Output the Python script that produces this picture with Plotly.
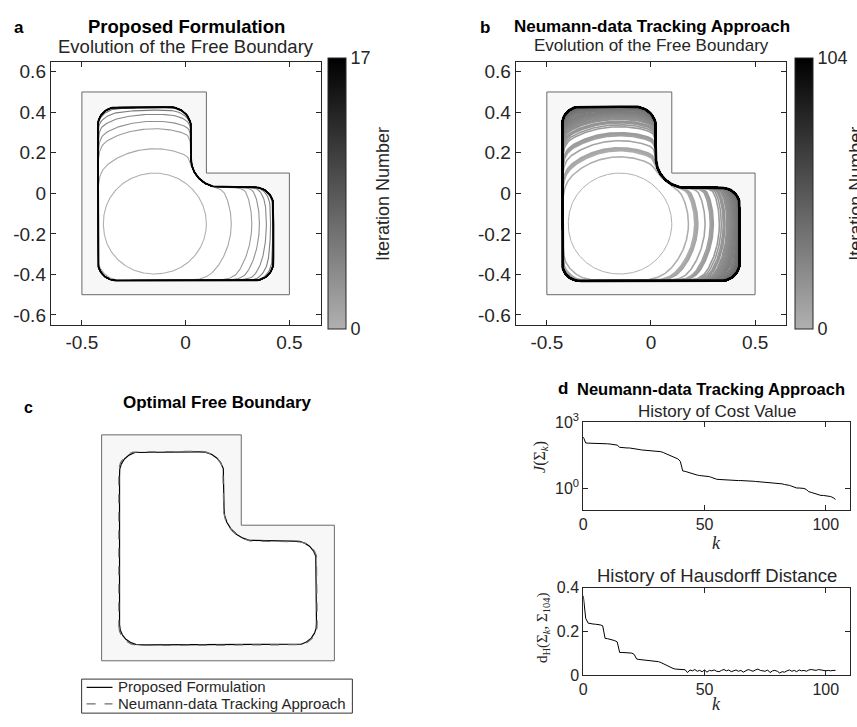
import numpy as np
import plotly.graph_objects as go

W, H = 857, 727
SANS = "Liberation Sans, Arial, Helvetica, sans-serif"
SERIF = "Liberation Serif, Times New Roman, serif"
INK = "#262626"


def fx(px):
    return px / W


def fy(py):
    return 1 - py / H


# ---- L-shaped container -------------------------------------------------
DOMAIN_X = [-0.5, 0.5, 0.5, 0.1, 0.1, -0.5, -0.5]
DOMAIN_Y = [-0.5, -0.5, 0.1, 0.1, 0.5, 0.5, -0.5]

# ---- optimal free boundaries: corner vertices (ccw) and fillet radii ----
PROPOSED_CORNERS_X = [-0.423, 0.423, 0.423, 0.026, 0.026, -0.423]
PROPOSED_CORNERS_Y = [-0.430, -0.430, 0.030, 0.030, 0.425, 0.425]
PROPOSED_FILLETS = [0.09, 0.09, 0.09, 0.14, 0.10, 0.09]

NEUMANN_CORNERS_X = [-0.426, 0.426, 0.426, 0.024, 0.024, -0.426]
NEUMANN_CORNERS_Y = [-0.432, -0.432, 0.027, 0.027, 0.427, 0.427]
NEUMANN_FILLETS = [0.085, 0.09, 0.085, 0.145, 0.10, 0.085]

# initial guess: disc centred here, iterates grow from it
INITIAL_CENTER = (-0.15, -0.15)

# effective growth radius of each iterate (iteration 0 .. last)
PROPOSED_RADII = [0.25, 0.37, 0.47, 0.51, 0.555, 0.60, 0.66, 0.75, 0.85,
                  1.0, 1.2, 1.5, 2.0, 2.5, 3.0, 3.0, 3.0, 3.0]
NEUMANN_RADII = [0.25, 0.33, 0.36, 0.365, 0.37, 0.37, 0.375, 0.41, 0.435,
                 0.44, 0.445, 0.445, 0.45, 0.48, 0.49, 0.50, 0.505, 0.51,
                 0.52, 0.525, 0.53, 0.535, 0.54, 0.545, 0.55, 0.555, 0.56,
                 0.565, 0.57, 0.575, 0.58, 0.59, 0.60, 0.61, 0.62, 0.63,
                 0.64, 0.65, 0.66, 0.68, 0.70, 0.72, 0.74, 0.76, 0.78,
                 0.80, 0.83, 0.86, 0.89, 0.92, 0.95, 1.0, 1.03, 1.06,
                 1.1, 1.13, 1.16, 1.2, 1.24, 1.28, 1.32, 1.36, 1.4,
                 1.44, 1.48, 1.52, 1.56, 1.6, 1.64, 1.68, 1.72, 1.76,
                 1.8, 1.84, 1.88, 1.92, 1.96, 2.0, 2.04, 2.08, 2.12,
                 2.16, 2.2, 2.24, 2.28, 2.32, 2.36, 2.4, 2.44, 2.48,
                 2.52, 2.56, 2.6, 2.64, 2.68, 2.72, 2.76, 2.8, 2.84,
                 2.88, 2.92, 2.96, 3.0, 3.0, 3.0]

PROPOSED_LAST = 17
NEUMANN_LAST = 104

# ---- Neumann-data tracking: cost history (log10 J) ----------------------
COST_LOG10 = [2.33, 2.06, 2.05, 2.05, 2.05, 2.04, 2.04, 2.04, 2.03, 2.03,
              2.02, 2.01, 2.00, 1.99, 1.96, 1.86, 1.84, 1.84, 1.83, 1.83,
              1.82, 1.79, 1.77, 1.76, 1.74, 1.73, 1.72, 1.71, 1.71, 1.70,
              1.69, 1.68, 1.66, 1.62, 1.57, 1.53, 1.49, 1.45, 1.40, 1.33,
              1.22, 0.78, 0.76, 0.72, 0.68, 0.65, 0.62, 0.59, 0.57, 0.56,
              0.55, 0.54, 0.52, 0.48, 0.43, 0.40, 0.39, 0.38, 0.37, 0.37,
              0.36, 0.36, 0.35, 0.35, 0.34, 0.34, 0.34, 0.33, 0.33, 0.32,
              0.31, 0.30, 0.29, 0.28, 0.28, 0.27, 0.27, 0.26, 0.26, 0.25,
              0.24, 0.22, 0.19, 0.16, 0.15, 0.12, 0.08, 0.03, 0.00, 0.00,
              -0.01, -0.02, -0.07, -0.17, -0.20, -0.24, -0.27, -0.32, -0.34,
              -0.34, -0.35, -0.36, -0.39, -0.44, -0.52]

# ---- Hausdorff distance to the final boundary ---------------------------
HAUSDORFF = [0.363, 0.260, 0.238, 0.235, 0.234, 0.233, 0.232, 0.230, 0.226,
             0.168, 0.167, 0.165, 0.163, 0.158, 0.152, 0.104, 0.104, 0.103,
             0.103, 0.102, 0.101, 0.095, 0.074, 0.072, 0.071, 0.068, 0.067,
             0.066, 0.066, 0.065, 0.064, 0.062, 0.058, 0.052, 0.046, 0.040,
             0.035, 0.031, 0.028, 0.027, 0.026, 0.026, 0.025, 0.012, 0.024,
             0.020, 0.026, 0.018, 0.022, 0.016, 0.024, 0.014, 0.022, 0.020,
             0.024, 0.018, 0.016, 0.022, 0.026, 0.020, 0.024, 0.016, 0.020,
             0.024, 0.018, 0.022, 0.014, 0.020, 0.026, 0.022, 0.018, 0.024,
             0.028, 0.022, 0.020, 0.018, 0.024, 0.012, 0.020, 0.022, 0.018,
             0.010, 0.016, 0.014, 0.020, 0.024, 0.018, 0.022, 0.016, 0.024,
             0.020, 0.022, 0.018, 0.024, 0.026, 0.024, 0.022, 0.026, 0.024,
             0.022, 0.020, 0.022, 0.020, 0.022, 0.022]


# ---- geometry helpers ---------------------------------------------------
def rounded_boundary(cx, cy, fillets, n=40, samples=2400):
    """Closed polygon with circular fillets, resampled evenly by arc length."""
    V = np.column_stack([cx, cy]).astype(float)
    w = np.sqrt(0.5)
    t = np.linspace(0, 1, n)[:, None]
    b0, b1, b2 = (1 - t) ** 2, 2 * w * (1 - t) * t, t ** 2
    pieces = []
    for i in range(len(V)):
        P, Q, R = V[i - 1], V[i], V[(i + 1) % len(V)]
        d1 = (Q - P) / np.linalg.norm(Q - P)
        d2 = (R - Q) / np.linalg.norm(R - Q)
        a, b = Q - d1 * fillets[i], Q + d2 * fillets[i]
        pieces.append((b0 * a + b1 * Q + b2 * b) / (b0 + b1 + b2))
    pts = np.vstack(pieces)
    pts = np.vstack([pts, pts[:1]])
    seg = np.hypot(*np.diff(pts, axis=0).T)
    s = np.concatenate([[0], np.cumsum(seg)])
    s_new = np.linspace(0, s[-1], samples)
    return np.column_stack([np.interp(s_new, s, pts[:, 0]),
                            np.interp(s_new, s, pts[:, 1])])


def polar_profile(pts, center):
    d = pts[:-1] - np.asarray(center)
    return np.arctan2(d[:, 1], d[:, 0]), np.hypot(d[:, 0], d[:, 1])


THETA = np.linspace(0, 2 * np.pi, 481)


def iterate_curve(profile, center, R, p=16):
    ang, rad = profile
    rL = np.interp(THETA, ang, rad, period=2 * np.pi)
    r = (rL ** -p + R ** -p) ** (-1.0 / p)
    return center[0] + r * np.cos(THETA), center[1] + r * np.sin(THETA)


def gray(i, n):
    g = int(round(176 * (1 - i / n)))
    return f"rgb({g},{g},{g})"


GRAYSCALE = [[0, "rgb(176,176,176)"], [1, "rgb(0,0,0)"]]

prop_final = rounded_boundary(PROPOSED_CORNERS_X, PROPOSED_CORNERS_Y, PROPOSED_FILLETS)
neu_final = rounded_boundary(NEUMANN_CORNERS_X, NEUMANN_CORNERS_Y, NEUMANN_FILLETS)
prop_profile = polar_profile(prop_final, INITIAL_CENTER)
neu_profile = polar_profile(neu_final, INITIAL_CENTER)

fig = go.Figure()


def add_container(xa, ya, inner):
    fig.add_trace(go.Scatter(x=DOMAIN_X, y=DOMAIN_Y, mode="lines", fill="toself",
                             fillcolor="#f7f7f7", line=dict(color="#6a6a6a", width=1),
                             xaxis=xa, yaxis=ya, showlegend=False, hoverinfo="skip"))
    fig.add_trace(go.Scatter(x=inner[:, 0], y=inner[:, 1], mode="lines", fill="toself",
                             fillcolor="white", line=dict(width=0),
                             xaxis=xa, yaxis=ya, showlegend=False, hoverinfo="skip"))


def add_colorbar(xa, ya, last, left_px):
    fig.add_trace(go.Scatter(
        x=[None], y=[None], mode="markers", xaxis=xa, yaxis=ya, showlegend=False,
        marker=dict(color=[0, last], cmin=0, cmax=last, colorscale=GRAYSCALE,
                    showscale=True,
                    colorbar=dict(x=fx(left_px), xanchor="left", xpad=0, ypad=0,
                                  y=fy(187.5), yanchor="middle",
                                  len=271, lenmode="pixels",
                                  thickness=18, thicknessmode="pixels",
                                  outlinecolor=INK, outlinewidth=1,
                                  tickvals=[0, last], ticks="",
                                  tickfont=dict(size=18, color=INK, family=SANS)))))


# ---- panel a: proposed formulation -------------------------------------
add_container("x", "y", prop_final)
for i, R in enumerate(PROPOSED_RADII):
    cx_, cy_ = iterate_curve(prop_profile, INITIAL_CENTER, R)
    fig.add_trace(go.Scatter(x=cx_, y=cy_, mode="lines", xaxis="x", yaxis="y",
                             line=dict(color=gray(i, PROPOSED_LAST),
                                       width=1.8 if i == PROPOSED_LAST else 1.1),
                             showlegend=False, hoverinfo="skip"))
add_colorbar("x", "y", PROPOSED_LAST, 326)

# ---- panel b: Neumann-data tracking ------------------------------------
add_container("x2", "y2", neu_final)
for i, R in enumerate(NEUMANN_RADII):
    cx_, cy_ = iterate_curve(neu_profile, INITIAL_CENTER, R)
    fig.add_trace(go.Scatter(x=cx_, y=cy_, mode="lines", xaxis="x2", yaxis="y2",
                             line=dict(color=gray(i, NEUMANN_LAST),
                                       width=2.6 if i == NEUMANN_LAST else (1.0 if i == 0 else 1.6)),
                             showlegend=False, hoverinfo="skip"))
add_colorbar("x2", "y2", NEUMANN_LAST, 795)

# ---- panel c: optimal boundaries ---------------------------------------
add_container("x3", "y3", prop_final)
fig.add_trace(go.Scatter(x=prop_final[:, 0], y=prop_final[:, 1], mode="lines",
                         xaxis="x3", yaxis="y3", showlegend=False,
                         line=dict(color="black", width=1.2), hoverinfo="skip"))
fig.add_trace(go.Scatter(x=neu_final[:, 0], y=neu_final[:, 1], mode="lines",
                         xaxis="x3", yaxis="y3", showlegend=False,
                         line=dict(color="#6e6e6e", width=1.2, dash="dash"), hoverinfo="skip"))

# ---- panel d: histories ------------------------------------------------
k_cost = np.arange(len(COST_LOG10))
fig.add_trace(go.Scatter(x=k_cost, y=10.0 ** np.asarray(COST_LOG10), mode="lines",
                         xaxis="x4", yaxis="y4", line=dict(color="black", width=1),
                         showlegend=False, hoverinfo="skip"))
k_hd = np.arange(len(HAUSDORFF))
fig.add_trace(go.Scatter(x=k_hd, y=HAUSDORFF, mode="lines",
                         xaxis="x5", yaxis="y5", line=dict(color="black", width=1),
                         showlegend=False, hoverinfo="skip"))

# ---- axes -------------------------------------------------------------
frame = dict(showline=True, mirror="ticks", linecolor=INK, linewidth=1,
             ticks="inside", ticklen=5, tickcolor=INK, showgrid=False,
             zeroline=False, fixedrange=True)
big = dict(frame, tickfont=dict(size=19, color=INK, family=SANS))
small = dict(frame, tickfont=dict(size=16, color=INK, family=SANS))

xt = [-0.5, 0, 0.5]
yt = [-0.6, -0.4, -0.2, 0, 0.2, 0.4, 0.6]
xlab = ["-0.5", "0", "0.5"]
ylab = ["-0.6", "-0.4", "-0.2", "0", "0.2", "0.4", "0.6"]
ydom_ab = [fy(323), fy(52)]

fig.update_layout(
    xaxis=dict(big, domain=[fx(47), fx(318)], range=[-0.65, 0.65], anchor="y",
               tickvals=xt, ticktext=xlab),
    yaxis=dict(big, domain=ydom_ab, range=[-0.65, 0.65], anchor="x",
               tickvals=yt, ticktext=ylab),
    xaxis2=dict(big, domain=[fx(514), fx(786)], range=[-0.65, 0.65], anchor="y2",
                tickvals=xt, ticktext=xlab),
    yaxis2=dict(big, domain=ydom_ab, range=[-0.65, 0.65], anchor="x2",
                tickvals=yt, ticktext=ylab),
    xaxis3=dict(visible=False, domain=[fx(63), fx(367)], range=[-0.65, 0.65],
                anchor="y3", fixedrange=True),
    yaxis3=dict(visible=False, domain=[fy(703), fy(401)], range=[-0.65, 0.65],
                anchor="x3", fixedrange=True),
    xaxis4=dict(small, domain=[fx(582), fx(850)], range=[0, 110], anchor="y4",
                tickvals=[0, 50, 100]),
    yaxis4=dict(small, domain=[fy(513), fy(423)], type="log", range=[-1, 3],
                anchor="x4", tickvals=[1, 1000],
                ticktext=["10<sup>0</sup>", "10<sup>3</sup>"]),
    xaxis5=dict(small, domain=[fx(582), fx(850)], range=[0, 110], anchor="y5",
                tickvals=[0, 50, 100]),
    yaxis5=dict(small, domain=[fy(683), fy(593)], range=[0, 0.4], anchor="x5",
                tickvals=[0, 0.2, 0.4], ticktext=["0", "0.2", "0.4"]),
)


def text(x, y, s, size=16, bold=False, family=SANS, angle=0, xanchor="center"):
    return dict(x=fx(x), y=fy(y), xref="paper", yref="paper",
                text=f"<b>{s}</b>" if bold else s,
                showarrow=False, xanchor=xanchor, yanchor="middle", textangle=angle,
                font=dict(size=size, color="black" if bold else INK, family=family))


# legend for panel c, drawn as a framed key
LEG_LEFT, LEG_RIGHT, LEG_TOP, LEG_BOTTOM = 78, 350, 687, 722
shapes = [
    dict(type="rect", xref="paper", yref="paper",
         x0=fx(LEG_LEFT), x1=fx(LEG_RIGHT), y0=fy(LEG_BOTTOM), y1=fy(LEG_TOP),
         line=dict(color="#333333", width=1), fillcolor="white", layer="above"),
    dict(type="line", xref="paper", yref="paper", x0=fx(83), x1=fx(109),
         y0=fy(695.5), y1=fy(695.5), line=dict(color="black", width=1.2)),
    dict(type="line", xref="paper", yref="paper", x0=fx(83), x1=fx(109),
         y0=fy(712.5), y1=fy(712.5), line=dict(color="#6e6e6e", width=1.2, dash="dash")),
]

annotations = [
    text(15, 17, "a", 17, True),
    text(183, 16, "Proposed Formulation", 18.5, True),
    text(183, 36, "Evolution of the Free Boundary", 18.5),
    text(381, 188, "Iteration Number", 18, angle=-90),
    text(483, 17, "b", 17, True),
    text(651, 16, "Neumann-data Tracking Approach", 17, True),
    text(651, 35, "Evolution of the Free Boundary", 17),
    text(856, 188, "Iteration Number", 18, angle=-90),
    text(25, 408, "c", 16, True),
    text(214, 403, "Optimal Free Boundary", 17, True),
    text(562, 388, "d", 17, True),
    text(710, 389, "Neumann-data Tracking Approach", 16.5, True),
    text(716, 412, "History of Cost Value", 17),
    text(716, 547, "<i>k</i>", 18, family=SERIF),
    text(539, 458, "<i>J</i>(Σ<sub><i>k</i></sub>)", 16, family=SERIF, angle=-90),
    text(716, 580, "History of Hausdorff Distance", 18.5),
    text(716, 713, "<i>k</i>", 18, family=SERIF),
    text(541, 634, "d<sub>H</sub>(Σ<sub><i>k</i></sub>, Σ<sub>104</sub>)", 15,
         family=SERIF, angle=-90),
    text(113, 695, "Proposed Formulation", 15, xanchor="left"),
    text(113, 712, "Neumann-data Tracking Approach", 15, xanchor="left"),
]

fig.update_layout(
    width=W, height=H, margin=dict(l=0, r=0, t=0, b=0),
    paper_bgcolor="white", plot_bgcolor="white",
    font=dict(family=SANS, color=INK),
    annotations=annotations,
    shapes=shapes,
    showlegend=False,
)

fig.write_html("out.html")
